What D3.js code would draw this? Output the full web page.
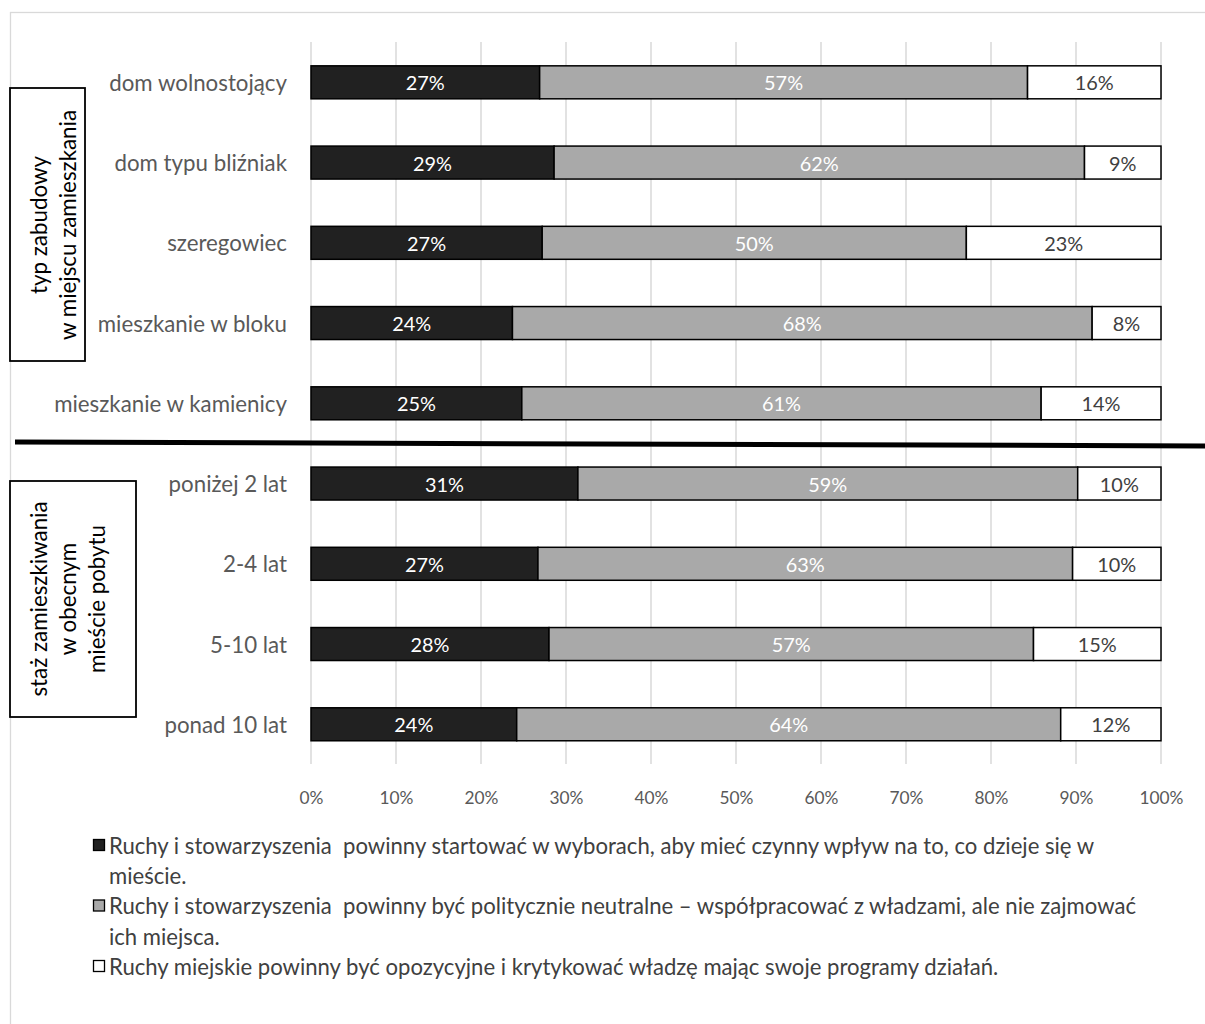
<!DOCTYPE html>
<html><head><meta charset="utf-8">
<script src="https://cdn.jsdelivr.net/npm/d3@7"></script>
<style>body{margin:0;background:#fff} svg{display:block} text{white-space:pre}</style>
</head><body><svg id="c" width="1205" height="1024"></svg>
<script>
// ---- data ----
const categories = ["dom wolnostojący","dom typu bliźniak","szeregowiec","mieszkanie w bloku","mieszkanie w kamienicy","poniżej 2 lat","2-4 lat","5-10 lat","ponad 10 lat"];
const seriesKeys = ["startowac","neutralne","opozycyjne"];
const startowac  = [26.9, 28.6, 27.2, 23.7, 24.8, 31.4, 26.7, 28.0, 24.2];
const neutralne  = [57.4, 62.4, 49.9, 68.2, 61.1, 58.8, 62.9, 57.0, 64.0];
const opozycyjne = [15.7,  9.0, 22.9,  8.1, 14.1,  9.8, 10.4, 15.0, 11.8];
const xTicks = [0,10,20,30,40,50,60,70,80,90,100];
const legendLines = [
  ["Ruchy i stowarzyszenia  powinny startować w wyborach, aby mieć czynny wpływ na to, co dzieje się w","mieście."],
  ["Ruchy i stowarzyszenia  powinny być politycznie neutralne – współpracować z władzami, ale nie zajmować","ich miejsca."],
  ["Ruchy miejskie powinny być opozycyjne i krytykować władzę mając swoje programy działań."]
];
const groupTitles = [["typ zabudowy","w miejscu zamieszkania"],["staż zamieszkiwania","w obecnym","mieście pobytu"]];

// ---- styles ----
const FONT = "Lato, 'Open Sans', sans-serif";
const fills = {startowac:"#212121", neutralne:"#a9a9a9", opozycyjne:"#ffffff"};
const labelColors = {startowac:"#ffffff", neutralne:"#ffffff", opozycyjne:"#404040"};

const svg = d3.select("#c");
function fit(str, target){
  const t = svg.append("text").attr("font-family",FONT).attr("font-size",100).text(str);
  const w = t.node().getComputedTextLength(); t.remove();
  return 100*target/w;
}
const catSize = fit("mieszkanie w kamienicy", 233);
const tickSize = fit("100%", 44);
const barSize = fit("27%", 39);
const legSize = fit(legendLines[0][0], 986);
const boxSize = fit("w miejscu zamieszkania", 230);

// outer border
svg.append("rect").attr("x",10.5).attr("y",12.5).attr("width",1210).attr("height",1030)
  .attr("fill","none").attr("stroke","#d9d9d9").attr("stroke-width",1.3);

const x = d3.scaleLinear().domain([0,100]).range([311,1161]);
const y = d3.scaleBand().domain(categories).range([42.2,764.4]).paddingInner(0.589).paddingOuter(0.2945);

// gridlines
svg.append("g").selectAll("line").data(xTicks).join("line")
  .attr("x1",d=>x(d)).attr("x2",d=>x(d)).attr("y1",42).attr("y2",764)
  .attr("stroke","#d9d9d9").attr("stroke-width",1.5);

// x axis labels
const xAxis = svg.append("g").attr("transform","translate(0,764)")
  .call(d3.axisBottom(x).tickValues(xTicks).tickFormat(d=>d+"%").tickSize(0).tickPadding(0));
xAxis.select(".domain").remove();
xAxis.selectAll("text").attr("font-family",FONT).attr("font-size",tickSize).attr("fill","#595959")
  .attr("dy",null).attr("y",33).attr("dominant-baseline","central");

// y axis labels
const yAxis = svg.append("g").attr("transform","translate(287,0)")
  .call(d3.axisLeft(y).tickSize(0).tickPadding(0));
yAxis.select(".domain").remove();
yAxis.selectAll("text").attr("font-family",FONT).attr("font-size",catSize).attr("fill","#595959")
  .attr("dy",null).attr("dominant-baseline","central");

// stacked bars
const table = categories.map((c,i)=>({cat:c, startowac:startowac[i], neutralne:neutralne[i], opozycyjne:opozycyjne[i]}));
const stacked = d3.stack().keys(seriesKeys)(table);
const fmt = d3.format(".0f");
const gSeries = svg.append("g").selectAll("g").data(stacked).join("g");
gSeries.selectAll("rect").data(s=>s.map(d=>({d, key:s.key}))).join("rect")
  .attr("x",o=>x(o.d[0])).attr("width",o=>x(o.d[1])-x(o.d[0]))
  .attr("y",o=>y(o.d.data.cat)).attr("height",y.bandwidth())
  .attr("fill",o=>fills[o.key]).attr("stroke","#000").attr("stroke-width",1.5);
gSeries.selectAll("text").data(s=>s.map(d=>({d, key:s.key}))).join("text")
  .attr("x",o=>(x(o.d[0])+x(o.d[1]))/2).attr("y",o=>y(o.d.data.cat)+y.bandwidth()/2)
  .attr("text-anchor","middle").attr("dominant-baseline","central")
  .attr("font-family",FONT).attr("font-size",barSize).attr("fill",o=>labelColors[o.key])
  .text(o=>fmt(o.d[1]-o.d[0])+"%");

// separator line
svg.append("line").attr("x1",15).attr("y1",442).attr("x2",1210).attr("y2",446)
  .attr("stroke","#000").attr("stroke-width",5);

// group boxes
const boxes = [{x:10,y:88,w:75,h:273,cy:225,cols:[38,67]},{x:10,y:481,w:126,h:236,cy:599,cols:[38,67,96]}];
boxes.forEach((b,i)=>{
  svg.append("rect").attr("x",b.x).attr("y",b.y).attr("width",b.w).attr("height",b.h)
    .attr("fill","#fff").attr("stroke","#000").attr("stroke-width",1.8);
  groupTitles[i].forEach((t,j)=>{
    svg.append("text").attr("transform",`translate(${b.cols[j]},${b.cy}) rotate(-90)`)
      .attr("text-anchor","middle").attr("dominant-baseline","central")
      .attr("font-family",FONT).attr("font-size",boxSize).attr("fill","#000").text(t);
  });
});

// legend
const legTop = [845, 905.5, 966];
legendLines.forEach((lines,i)=>{
  svg.append("rect").attr("x",93.5).attr("y",legTop[i]-5.5).attr("width",11).attr("height",11)
    .attr("fill",fills[seriesKeys[i]]).attr("stroke","#000").attr("stroke-width",1.3);
  lines.forEach((ln,j)=>{
    svg.append("text").attr("x",109).attr("y",legTop[i]+j*30.8).attr("dominant-baseline","central")
      .attr("font-family",FONT).attr("font-size",legSize).attr("fill","#404040").text(ln);
  });
});
</script></body></html>
